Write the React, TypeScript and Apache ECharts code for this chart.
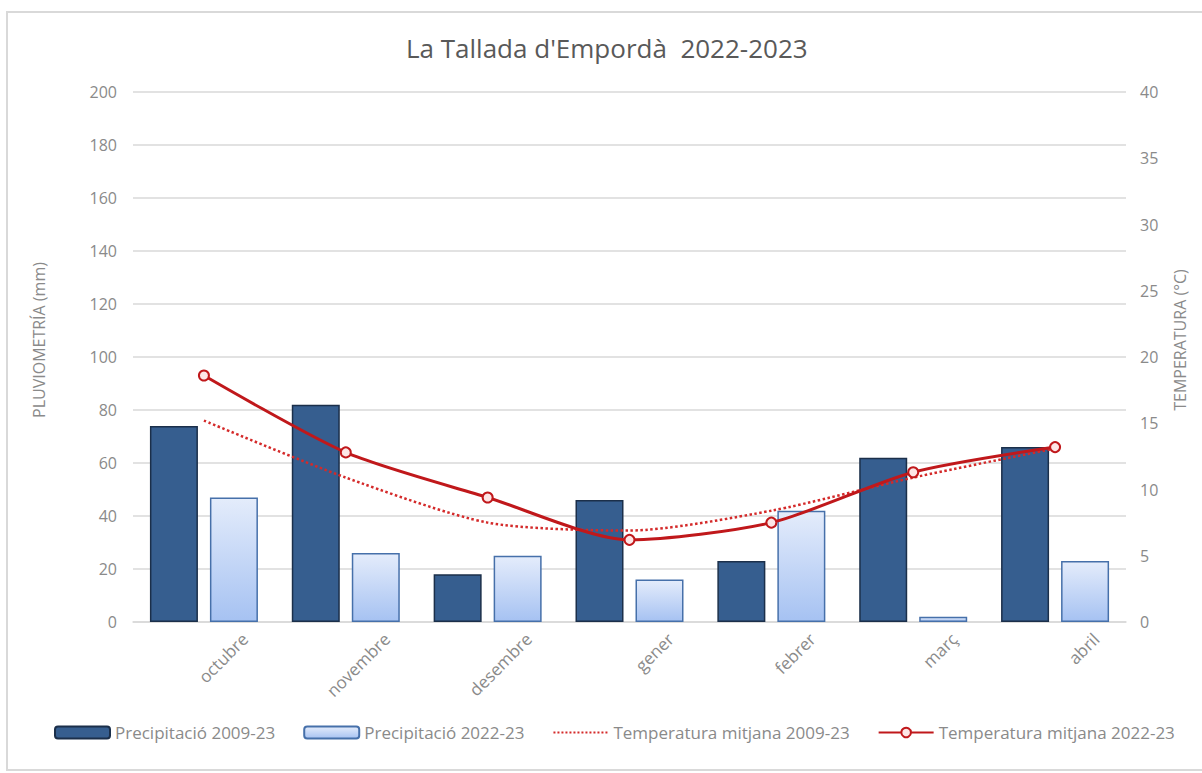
import React, { useEffect, useRef } from "react";
import * as echarts from "echarts";

const months = ["octubre", "novembre", "desembre", "gener", "febrer", "març", "abril"];
const precip0923 = [74, 82, 18, 46, 23, 62, 66];
const precip2223 = [47, 26, 25, 16, 42, 2, 23];
const temp0923 = [15.2, 10.9, 7.5, 6.9, 8.4, 10.9, 13.1];
const temp2223 = [18.6, 12.8, 9.4, 6.2, 7.5, 11.3, 13.2];
const precipTicks = { min: 0, max: 200, interval: 20 };
const tempTicks = { min: 0, max: 40, interval: 5 };

const FONT = "'Open Sans', 'Noto Sans', sans-serif";
const GREY = "#8a8a8a";

export default function App() {
  const ref = useRef<HTMLDivElement>(null);
  useEffect(() => {
    if (!ref.current) return;
    const chart = echarts.init(ref.current, null, { renderer: "svg" });
    chart.setOption({
      animation: false,
      backgroundColor: "#ffffff",
      textStyle: { fontFamily: FONT },
      graphic: [
        {
          type: "rect",
          shape: { x: 7, y: 12, width: 1200, height: 758 },
          style: { fill: "none", stroke: "#d9d9d9", lineWidth: 2 },
          silent: true,
          z: -10,
        },
      ],
      title: {
        text: "La Tallada d'Empordà  2022-2023",
        left: 401,
        top: 30,
        textStyle: { fontFamily: FONT, fontSize: 26, fontWeight: "normal", color: "#595959" },
      },
      legend: {
        left: 49,
        top: 719,
        itemWidth: 55,
        itemHeight: 12,
        itemGap: 28,
        textStyle: { fontFamily: FONT, fontSize: 17, color: GREY },
        data: [
          "Precipitació 2009-23",
          "Precipitació 2022-23",
          { name: "Temperatura mitjana 2009-23", itemStyle: { opacity: 0 } },
          "Temperatura mitjana 2022-23",
        ],
      },
      grid: [
        { left: 133, right: 76, top: 92, bottom: 151 },
        { left: 174, right: 35, top: 92, bottom: 151 },
      ],
      xAxis: [
        {
          type: "category",
          data: months,
          gridIndex: 0,
          axisLine: { show: true, lineStyle: { color: "#d9d9d9", width: 1.5 } },
          axisTick: { show: false },
          axisLabel: { show: false },
        },
        {
          type: "category",
          data: months,
          gridIndex: 1,
          axisLine: { show: false },
          axisTick: { show: false },
          axisLabel: {
            rotate: 45,
            margin: 14,
            fontFamily: FONT,
            fontSize: 17,
            color: GREY,
          },
        },
      ],
      yAxis: [
        {
          type: "value",
          gridIndex: 0,
          ...precipTicks,
          name: "PLUVIOMETRÍA (mm)",
          nameLocation: "middle",
          nameGap: 86,
          nameTextStyle: { fontFamily: FONT, fontSize: 16, color: GREY, padding: [0, 0, 0, 34] },
          axisLine: { show: false },
          axisTick: { show: false },
          axisLabel: { margin: 16, fontFamily: FONT, fontSize: 16, color: GREY },
          splitLine: { lineStyle: { color: "#d9d9d9", width: 1.5 } },
        },
        {
          type: "value",
          gridIndex: 0,
          position: "right",
          ...tempTicks,
          name: "TEMPERATURA (°C)",
          nameLocation: "middle",
          nameGap: 46,
          nameRotate: 90,
          nameTextStyle: { fontFamily: FONT, fontSize: 16, color: GREY, padding: [0, 0, 0, 34] },
          axisLine: { show: false },
          axisTick: { show: false },
          axisLabel: { margin: 14, fontFamily: FONT, fontSize: 16, color: GREY },
          splitLine: { show: false },
        },
        {
          type: "value",
          gridIndex: 1,
          show: false,
          min: 0,
          max: 1,
        },
      ],
      series: [
        {
          name: "Precipitació 2009-23",
          type: "bar",
          xAxisIndex: 0,
          yAxisIndex: 0,
          data: precip0923,
          barWidth: 48,
          barGap: "25%",
          itemStyle: { color: "#365e8f", borderColor: "#1b2f4a", borderWidth: 1.5 },
        },
        {
          name: "Precipitació 2022-23",
          type: "bar",
          xAxisIndex: 0,
          yAxisIndex: 0,
          data: precip2223,
          barWidth: 48,
          itemStyle: {
            color: new echarts.graphic.LinearGradient(0, 0, 0, 1, [
              { offset: 0, color: "#e4ecfb" },
              { offset: 1, color: "#a6c2f2" },
            ]),
            borderColor: "#4670aa",
            borderWidth: 1.5,
          },
        },
        {
          name: "Temperatura mitjana 2009-23",
          type: "line",
          xAxisIndex: 0,
          yAxisIndex: 1,
          data: temp0923,
          smooth: 0.25,
          symbol: "none",
          lineStyle: { color: "#d42a2a", width: 2.5, type: "dotted" },
          itemStyle: { color: "#d42a2a" },
          z: 3,
        },
        {
          name: "Temperatura mitjana 2022-23",
          type: "line",
          xAxisIndex: 0,
          yAxisIndex: 1,
          data: temp2223,
          smooth: 0.25,
          symbol: "circle",
          symbolSize: 10,
          lineStyle: { color: "#c0181b", width: 3 },
          itemStyle: { color: "#fde6e6", borderColor: "#c0181b", borderWidth: 2 },
          z: 4,
        },
      ],
    });
    return () => chart.dispose();
  }, []);
  return (
    <div
      ref={ref}
      style={{ position: "fixed", left: 0, top: 0, width: 1202, height: 773 }}
    />
  );
}
